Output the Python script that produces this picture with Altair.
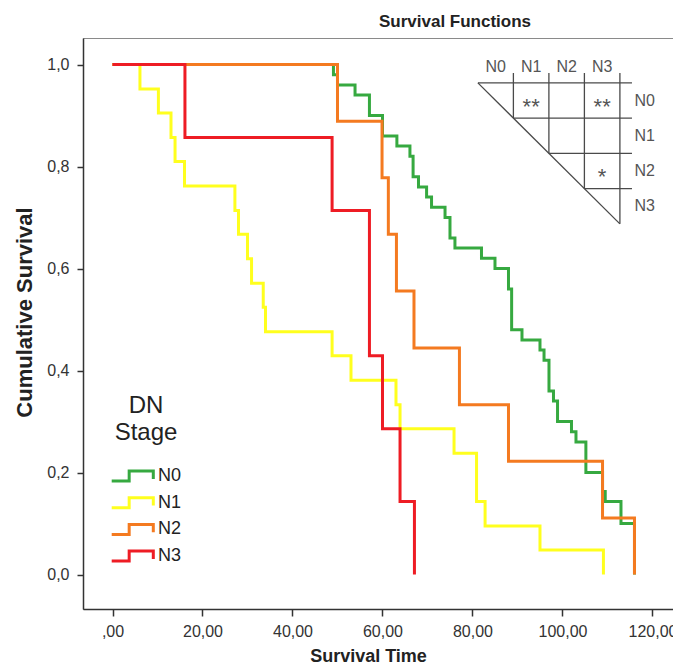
import altair as alt
import pandas as pd

# ---------------- data ----------------
stages = ["N0", "N1", "N2", "N3"]
colors = ["#36A940", "#FFFF1E", "#F47A20", "#EE1C24"]

n0_time = [0, 49.1, 50.0, 53.9, 57.1, 60.0, 63.2, 66.1, 66.8, 68.0, 69.8, 70.9, 73.9, 75.0, 76.1,
           82.0, 85.0, 88.0, 88.7, 91.0, 95.0, 95.9, 97.0, 98.0, 98.9, 102.0, 103.0, 105.2,
           108.9, 109.5, 113.0, 116.0]
n0_surv = [1.0, 0.98, 0.96, 0.94, 0.90, 0.86, 0.84, 0.82, 0.78, 0.76, 0.74, 0.72, 0.70, 0.66, 0.64,
           0.62, 0.60, 0.56, 0.48, 0.46, 0.44, 0.42, 0.36, 0.34, 0.30, 0.28, 0.26, 0.20,
           0.163, 0.143, 0.10, 0.0]

n1_time = [0, 6.1, 10.2, 13.0, 13.9, 16.0, 27.2, 28.0, 30.0, 30.9, 33.5, 34.0, 48.8, 53.0,
           63.0, 63.9, 75.9, 80.9, 82.8, 95.0, 109.1]
n1_surv = [1.0, 0.952, 0.905, 0.857, 0.810, 0.762, 0.714, 0.667, 0.619, 0.571, 0.524, 0.476,
           0.429, 0.381, 0.333, 0.286, 0.238, 0.143, 0.095, 0.048, 0.0]

n2_time = [0, 50.0, 59.9, 61.3, 63.1, 67.0, 77.1, 88.0, 108.9, 116.0]
n2_surv = [1.0, 0.889, 0.778, 0.667, 0.556, 0.444, 0.333, 0.222, 0.111, 0.0]

n3_time = [0, 16.1, 48.8, 57.1, 60.0, 63.9, 67.1]
n3_surv = [1.0, 0.857, 0.714, 0.429, 0.286, 0.143, 0.0]

x_ticks = [0, 20, 40, 60, 80, 100, 120]
y_ticks = [0.0, 0.2, 0.4, 0.6, 0.8, 1.0]

# pairwise comparison table (row stage, column stage, significance mark)
table_labels = ["N0", "N1", "N2", "N3"]
sig_rows = ["N0", "N0", "N2"]
sig_cols = ["N1", "N3", "N3"]
sig_marks = ["**", "**", "*"]

# ---------------- build tables ----------------
rows = []
for g, ts, ss in zip(stages, [n0_time, n1_time, n2_time, n3_time],
                     [n0_surv, n1_surv, n2_surv, n3_surv]):
    for t, s in zip(ts, ss):
        rows.append({"stage": g, "time": t, "surv": s})
df = pd.DataFrame(rows)

# table placement in the chart's data units (top-left corner and cell size)
T0, S0 = 81.2, 0.964
CT, CS = 7.89, 0.0691


def tu(u):
    return T0 + u * CT


def sv(v):
    return S0 - v * CS


n = len(table_labels)
seg = []
for k in range(1, n + 1):            # vertical grid lines
    seg.append({"t": tu(k), "s": sv(-0.28), "t2": tu(k), "s2": sv(k)})
for k in range(0, n):                # horizontal grid lines
    seg.append({"t": tu(k), "s": sv(k), "t2": tu(n + 0.34), "s2": sv(k)})
seg.append({"t": tu(0), "s": sv(0), "t2": tu(n), "s2": sv(n)})   # diagonal
seg_df = pd.DataFrame(seg)

hdr_df = pd.DataFrame({"label": table_labels,
                       "t": [tu(i + 0.5) for i in range(n)],
                       "s": [sv(-0.30)] * n})
rl_df = pd.DataFrame({"label": table_labels,
                      "t": [tu(n + 0.70)] * n,
                      "s": [sv(i + 0.5) for i in range(n)]})
star_df = pd.DataFrame({"label": sig_marks,
                        "t": [tu(table_labels.index(c) + 0.5) for c in sig_cols],
                        "s": [sv(table_labels.index(r) + 0.5) for r in sig_rows]})

# ---------------- styling ----------------
W, H = 590, 571
FONT = "Liberation Sans, Arial, sans-serif"

x_scale = alt.Scale(domain=[-6.556, 124.56], nice=False, zero=False)
y_scale = alt.Scale(domain=[-0.0676, 1.052], nice=False, zero=False)

STEP_PATH = "M-1,0.24 L-0.16,0.24 L-0.16,-0.24 L1,-0.24 L1,0.14"

x_axis = alt.Axis(
    values=x_ticks,
    labelExpr="datum.value == 0 ? ',00' : replace(format(datum.value, '.2f'), '.', ',')",
    title="Survival Time", titleFont=FONT, titleFontSize=18, titleFontWeight="bold",
    titleColor="#222", titleX=285, titleY=52, titleAlign="center", titleBaseline="alphabetic",
    labelFont=FONT, labelFontSize=16, labelColor="#333", labelPadding=7,
    tickSize=7, tickColor="#333", tickWidth=1.5, domainColor="#333", domainWidth=1.5,
    grid=False, labelFlush=False, labelOverlap=False)

y_axis = alt.Axis(
    values=y_ticks,
    labelExpr="replace(format(datum.value, '.1f'), '.', ',')",
    title="Cumulative Survival", titleFont=FONT, titleFontSize=22, titleFontWeight="bold",
    titleColor="#222", titleAngle=270, titleX=-52, titleY=274, titleAlign="center",
    titleBaseline="alphabetic",
    labelFont=FONT, labelFontSize=16, labelColor="#333", labelPadding=8,
    tickSize=6, tickColor="#333", tickWidth=1.5, domainColor="#333", domainWidth=1.5,
    grid=False, labelFlush=False, labelOverlap=False)

legend = alt.Legend(
    title=["DN", "Stage"], orient="none", legendX=27, legendY=356, direction="vertical",
    symbolType=STEP_PATH, symbolSize=1730, symbolStrokeWidth=3, symbolFillColor="transparent",
    clipHeight=24, rowPadding=2.7, padding=0,
    labelFont=FONT, labelFontSize=18, labelColor="#222", labelOffset=3,
    titleFont=FONT, titleFontSize=24, titleFontWeight="normal", titleColor="#222",
    titleAnchor="middle", titleAlign="center", titleLineHeight=27, titlePadding=19)

curves = alt.Chart(df).mark_line(interpolate="step-after", strokeWidth=3).encode(
    x=alt.X("time:Q", scale=x_scale, axis=x_axis),
    y=alt.Y("surv:Q", scale=y_scale, axis=y_axis),
    color=alt.Color("stage:N", scale=alt.Scale(domain=stages, range=colors), legend=legend),
)

TC = "#4a4a4a"
grid_rules = alt.Chart(seg_df).mark_rule(color=TC, strokeWidth=1.3).encode(
    x="t:Q", y="s:Q", x2="t2:Q", y2="s2:Q")
headers = alt.Chart(hdr_df).mark_text(font=FONT, fontSize=16, color="#555",
                                      baseline="alphabetic", align="center").encode(
    x="t:Q", y="s:Q", text="label:N")
rowlabs = alt.Chart(rl_df).mark_text(font=FONT, fontSize=16, color="#555",
                                     baseline="middle", align="center").encode(
    x="t:Q", y="s:Q", text="label:N")
stars = alt.Chart(star_df).mark_text(font=FONT, fontSize=22, color="#555",
                                     baseline="alphabetic", align="center", dy=13).encode(
    x="t:Q", y="s:Q", text="label:N")

chart = alt.layer(curves, grid_rules, headers, rowlabs, stars).properties(
    width=W, height=H,
    title=alt.TitleParams("Survival Functions", font=FONT, fontSize=17, fontWeight="bold",
                          color="#222", anchor="middle", frame="group", dx=77, dy=18,
                          baseline="alphabetic", offset=12),
    padding={"left": 83, "top": 38, "right": 0, "bottom": 56},
    autosize=alt.AutoSizeParams(type="none"),
    background="white",
).configure_view(stroke="#8a8a8a", strokeWidth=1)

chart.save("out.html", embed_options={"renderer": "svg", "actions": False})
